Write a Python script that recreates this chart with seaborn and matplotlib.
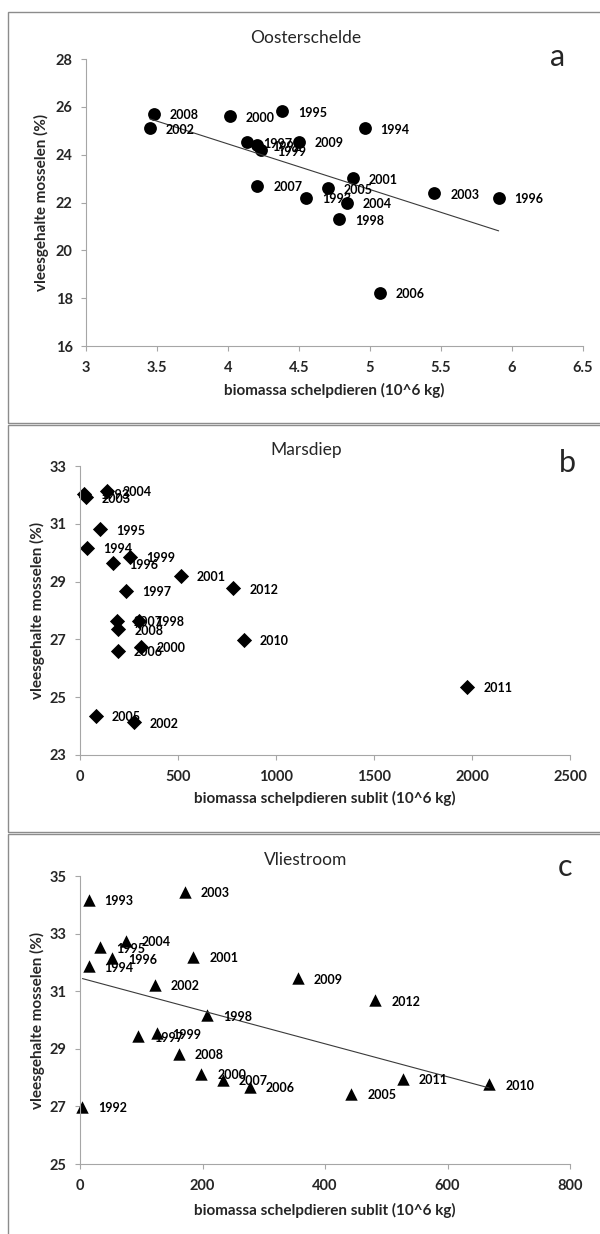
import matplotlib
matplotlib.use("Agg")
import matplotlib.pyplot as plt
import seaborn as sns
import pandas as pd
from matplotlib.patches import Rectangle

# --- Oosterschelde: flesh content vs shellfish biomass ---
years_a = [2008, 2002, 2000, 1995, 1994, 1997, 1992, 1999, 2009, 2001,
           2007, 2005, 1993, 2004, 1998, 2003, 1996, 2006]
biomass_a = [3.476, 3.449, 4.013, 4.379, 4.962, 4.133, 4.201, 4.231, 4.497, 4.877,
             4.207, 4.702, 4.549, 4.836, 4.782, 5.452, 5.906, 5.069]
flesh_a = [25.71, 25.10, 25.61, 25.81, 25.10, 24.52, 24.39, 24.19, 24.53, 23.01,
           22.69, 22.59, 22.19, 22.00, 21.30, 22.38, 22.20, 18.22]

# --- Marsdiep ---
years_b = [1993, 2003, 2004, 1995, 1994, 1999, 1996, 2001, 2012, 1997,
           2007, 1998, 2008, 2010, 2006, 2000, 2011, 2005, 2002]
biomass_b = [20, 29, 137, 102, 35, 254, 170, 514, 782, 237,
             190, 303, 196, 837, 192, 309, 1976, 82, 274]
flesh_b = [32.03, 31.92, 32.15, 30.81, 30.16, 29.85, 29.63, 29.19, 28.77, 28.68,
           27.65, 27.65, 27.35, 26.98, 26.61, 26.75, 25.37, 24.36, 24.13]

# --- Vliestroom ---
years_c = [1993, 2003, 2004, 1995, 1996, 1994, 2001, 2009, 2002, 2012, 1998,
           1997, 1999, 2008, 2000, 2007, 2006, 2005, 2011, 2010, 1992]
biomass_c = [14, 171, 75, 33, 52, 14, 185, 356, 122, 482, 208,
             95, 125, 161, 198, 233, 277, 443, 527, 668, 4]
flesh_c = [34.17, 34.46, 32.76, 32.53, 32.14, 31.86, 32.20, 31.45, 31.22, 30.68, 30.16,
           29.43, 29.54, 28.82, 28.13, 27.92, 27.67, 27.44, 27.95, 27.77, 26.98]

YLABEL = "vleesgehalte mosselen (%)"

sns.set_theme(style="white")
plt.rcParams['font.family'] = ['Lato', 'DejaVu Sans']

W, H = 600, 1234
fig = plt.figure(figsize=(W / 100, H / 100), dpi=100)
AXIS_GREY = '#a6a6a6'
BOX_GREY = '#8c8c8c'


def rect_px(left, top, right, bottom):
    """Figure-fraction rectangle from pixel edges (origin top-left)."""
    return [left / W, 1 - bottom / H, (right - left) / W, (bottom - top) / H]


def panel(rect, years, xs, ys, marker, size, xlim, xticks, ylim, yticks,
          xlabel, fit, ylabel_x, xlabel_y, title, title_y, letter, letter_xy):
    ax = fig.add_axes(rect)
    df = pd.DataFrame({'year': years, 'x': xs, 'y': ys})
    sns.scatterplot(data=df, x='x', y='y', marker=marker, s=size, color='black',
                    edgecolor='black', linewidth=0, legend=False, ax=ax, clip_on=False)
    if fit:
        sns.regplot(data=df, x='x', y='y', scatter=False, ci=None, ax=ax,
                    line_kws=dict(color='#3a3a3a', lw=0.8))
    for yr, x, y in zip(df['year'], df['x'], df['y']):
        ax.annotate(str(yr), (x, y), xytext=(11.5, -1), textcoords='offset points',
                    ha='left', va='center', fontsize=9, fontweight='bold', color='black')
    ax.set_xlim(*xlim)
    ax.set_ylim(*ylim)
    ax.set_xticks(xticks)
    ax.set_yticks(yticks)
    ax.set_xticklabels([f"{t:g}" for t in xticks])
    ax.set_yticklabels([f"{t:g}" for t in yticks])
    for lbl in ax.get_xticklabels() + ax.get_yticklabels():
        lbl.set_fontweight('bold')
        lbl.set_fontsize(10.5)
    sns.despine(ax=ax)
    for s in ('left', 'bottom'):
        ax.spines[s].set_color(AXIS_GREY)
        ax.spines[s].set_linewidth(0.8)
    ax.tick_params(direction='out', length=3.6, width=0.8, color=AXIS_GREY,
                   left=True, bottom=True)
    ax.tick_params(axis='y', pad=6)
    ax.tick_params(axis='x', pad=7)
    ax.set_xlabel(xlabel, fontsize=11, fontweight='bold')
    ax.set_ylabel(YLABEL, fontsize=11, fontweight='bold')
    ax.yaxis.set_label_coords(ylabel_x, 0.5)
    ax.xaxis.set_label_coords(0.5, xlabel_y)
    fig.text(306 / W, 1 - title_y / H, title, fontsize=12.5, ha='center', va='center')
    fig.text(letter_xy[0] / W, 1 - letter_xy[1] / H, letter, fontsize=22,
             ha='center', va='center')
    return ax


# panel frames
for top, bottom in [(12, 423), (425, 832), (834, 1250)]:
    fig.add_artist(Rectangle((8 / W, 1 - bottom / H), (620 - 8) / W, (bottom - top) / H,
                             transform=fig.transFigure, fill=False,
                             edgecolor=BOX_GREY, lw=1.0))

panel(rect_px(86, 59, 583, 346), years_a, biomass_a, flesh_a, 'o', 85,
      (3, 6.5), [3, 3.5, 4, 4.5, 5, 5.5, 6, 6.5], (16, 28), [16, 18, 20, 22, 24, 26, 28],
      "biomassa schelpdieren (10^6 kg)", True, -0.075, -0.13,
      "Oosterschelde", 38, "a", (558, 57))

panel(rect_px(80, 466, 570, 755), years_b, biomass_b, flesh_b, 'D', 60,
      (0, 2500), [0, 500, 1000, 1500, 2000, 2500], (23, 33), [23, 25, 27, 29, 31, 33],
      "biomassa schelpdieren sublit (10^6 kg)", False, -0.072, -0.125,
      "Marsdiep", 450, "b", (567, 463))

panel(rect_px(80, 876, 570, 1164), years_c, biomass_c, flesh_c, '^', 80,
      (0, 800), [0, 200, 400, 600, 800], (25, 35), [25, 27, 29, 31, 33, 35],
      "biomassa schelpdieren sublit (10^6 kg)", True, -0.072, -0.135,
      "Vliestroom", 860, "c", (565, 867))

fig.savefig("out.png", dpi=100, facecolor='white')
